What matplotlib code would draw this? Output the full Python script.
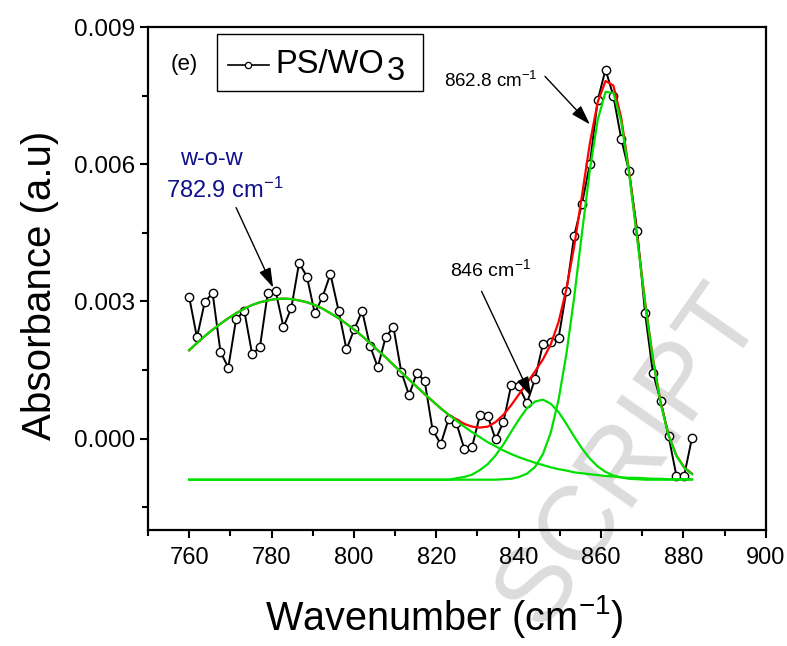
import matplotlib
matplotlib.use('Agg')
import matplotlib.pyplot as plt
from matplotlib.patches import Rectangle
from matplotlib.ticker import MultipleLocator, FormatStrFormatter
import numpy as np

plt.rcParams['font.family'] = ['Liberation Sans', 'DejaVu Sans']
plt.rcParams['mathtext.fontset'] = 'custom'
plt.rcParams['mathtext.rm'] = 'Liberation Sans'
plt.rcParams['mathtext.it'] = 'Liberation Sans:italic'
plt.rcParams['mathtext.bf'] = 'Liberation Sans:bold'

# ------------------------------------------------------------
# data (absorbance values in units of 1e-3)
# ------------------------------------------------------------
wavenumber = [
    760.0, 761.9, 763.8, 765.7, 767.6, 769.5, 771.4, 773.4, 775.3, 777.2,
    779.1, 781.0, 782.9, 784.8, 786.7, 788.6, 790.5, 792.4, 794.3, 796.3,
    798.2, 800.1, 802.0, 803.9, 805.8, 807.7, 809.6, 811.5, 813.4, 815.3,
    817.2, 819.1, 821.1, 823.0, 824.9, 826.8, 828.7, 830.6, 832.5, 834.4,
    836.3, 838.2, 840.1, 842.0, 844.0, 845.9, 847.8, 849.7, 851.6, 853.5,
    855.4, 857.3, 859.2, 861.1, 863.0, 864.9, 866.8, 868.8, 870.7, 872.6,
    874.5, 876.4, 878.3, 880.2, 882.1,
]

absorbance = [
    3.10, 2.21, 2.99, 3.18, 1.90, 1.55, 2.61, 2.79, 1.84, 2.01,
    3.19, 3.22, 2.44, 2.85, 3.84, 3.54, 2.74, 3.10, 3.60, 2.79,
    1.95, 2.39, 2.79, 2.03, 1.56, 2.21, 2.44, 1.46, 0.95, 1.44,
    1.25, 0.19, -0.12, 0.43, 0.33, -0.22, -0.18, 0.51, 0.49, -0.02,
    0.36, 1.17, 1.14, 0.77, 1.31, 2.07, 2.11, 2.20, 3.23, 4.44,
    5.14, 6.01, 7.40, 8.07, 7.49, 6.56, 5.84, 4.54, 2.74, 1.44,
    0.82, 0.05, -0.81, -0.81, 0.02,
]

# fitted peaks at the same wavenumbers
peak_783 = [
    1.93, 2.09, 2.24, 2.38, 2.51, 2.63, 2.74, 2.84, 2.92, 2.98,
    3.02, 3.05, 3.06, 3.05, 3.02, 2.98, 2.92, 2.84, 2.74, 2.63,
    2.51, 2.38, 2.24, 2.09, 1.93, 1.78, 1.61, 1.45, 1.29, 1.13,
    0.97, 0.82, 0.66, 0.52, 0.39, 0.26, 0.14, 0.03, -0.08, -0.17,
    -0.26, -0.34, -0.41, -0.47, -0.53, -0.58, -0.63, -0.67, -0.70, -0.74,
    -0.76, -0.78, -0.80, -0.82, -0.83, -0.85, -0.86, -0.86, -0.87, -0.88,
    -0.88, -0.89, -0.89, -0.89, -0.89,
]

peak_846 = [-0.90] * 34 + [
    -0.87, -0.84, -0.79, -0.69, -0.56, -0.37, -0.13, 0.15, 0.42, 0.66,
    0.81, 0.85, 0.76, 0.58, 0.32, 0.04, -0.22, -0.44, -0.61, -0.73,
    -0.81, -0.85, -0.88, -0.89,
] + [-0.90] * 7

peak_863 = [-0.90] * 40 + [
    -0.89, -0.88, -0.84, -0.77, -0.62, -0.34, 0.13, 0.85, 1.85, 3.10,
    4.51, 5.88, 6.97, 7.58, 7.56, 6.93, 5.81, 4.36, 2.96, 1.73,
    0.76, 0.07, -0.38, -0.64, -0.78,
]

fit_total = peak_783[:34] + [
    0.42, 0.32, 0.26, 0.24, 0.26, 0.36, 0.52, 0.73, 0.97, 1.21,
    1.47, 1.73, 2.06, 2.55, 3.27, 4.21, 5.33, 6.46, 7.36, 7.82,
    7.72, 7.02, 5.87, 4.41, 2.99, 1.75, 0.78, 0.08, -0.37, -0.63,
    -0.77,
]

SCALE = 1e-3
GREEN = '#00e000'

# ------------------------------------------------------------
# figure
# ------------------------------------------------------------
fig = plt.figure(figsize=(7.87, 6.46), dpi=100)
ax = fig.add_axes([0.188, 0.1796, 0.785, 0.7786])
ax.patch.set_alpha(0)

# visible tail of the journal watermark, behind everything
fig.text(0.97, 0.515, 'SCRIPT', rotation=55, rotation_mode='anchor',
         ha='right', va='baseline', fontsize=76, color='#dcdcdc', zorder=-5)

x = np.array(wavenumber)
ax.plot(x, np.array(absorbance) * SCALE, '-o', color='black', lw=1.4,
        ms=6, mfc='white', mec='black', mew=1.0, zorder=2)
ax.plot(x, np.array(fit_total) * SCALE, color='red', lw=1.6, zorder=3)
for comp in (peak_783, peak_846, peak_863):
    ax.plot(x, np.array(comp) * SCALE, color=GREEN, lw=1.6, zorder=4)

ax.set_xlim(750, 900)
ax.set_ylim(-0.002, 0.009)
ax.xaxis.set_major_locator(MultipleLocator(20))
ax.xaxis.set_minor_locator(MultipleLocator(10))
ax.yaxis.set_major_locator(MultipleLocator(0.003))
ax.yaxis.set_minor_locator(MultipleLocator(0.0015))
ax.yaxis.set_major_formatter(FormatStrFormatter('%.3f'))

for s in ax.spines.values():
    s.set_linewidth(1.6)
ax.tick_params(which='both', direction='out', width=1.5)
ax.tick_params(which='major', length=6)
ax.tick_params(which='minor', length=4)
ax.tick_params(axis='y', pad=3, labelsize=17.5)
ax.tick_params(axis='x', pad=6, labelsize=17)

fig.text(40 / 787, 1 - 285 / 646, 'Absorbance (a.u)', rotation=90,
         ha='center', va='center', fontsize=29)
fig.text(444 / 787, 1 - 616 / 646, r'Wavenumber (cm$^{\mathrm{-1}}$)',
         ha='center', va='center', fontsize=28.5)

# panel tag and hand-made legend
ax.text(758.7, 0.00818, '(e)', ha='center', va='center', fontsize=16)
ax.add_patch(Rectangle((0.111, 0.873), 0.3335, 0.113, transform=ax.transAxes,
                       fill=False, ec='black', lw=1.0, zorder=5))
ax.plot([0.129, 0.196], [0.9245, 0.9245], transform=ax.transAxes,
        color='black', lw=1.2, zorder=5)
ax.plot([0.162], [0.9245], 'o', transform=ax.transAxes, ms=4.5,
        mfc='white', mec='black', mew=0.9, zorder=6)
ax.text(0.2055, 0.9085, 'PS/WO', transform=ax.transAxes, ha='left',
        va='baseline', fontsize=23.5)
ax.text(0.386, 0.8946, '3', transform=ax.transAxes, ha='left',
        va='baseline', fontsize=23.5)

# peak annotations
NAVY = '#10108a'
ax.text(765.4, 0.00599, 'w-o-w', ha='center', va='baseline', fontsize=17, color=NAVY)
ax.text(754.5, 0.00527, r'782.9 cm$^{\mathrm{-1}}$', ha='left', va='baseline',
        fontsize=17, color=NAVY)
ax.text(823.3, 0.00356, r'846 cm$^{\mathrm{-1}}$', ha='left', va='baseline', fontsize=14)
ax.text(821.8, 0.00768, r'862.8 cm$^{\mathrm{-1}}$', ha='left', va='baseline', fontsize=13.5)

arrow = dict(arrowstyle='-|>,head_length=0.8,head_width=0.25', color='black',
             lw=1.0, mutation_scale=15, shrinkA=0, shrinkB=0)
ax.annotate('', xy=(780.4, 0.00330), xytext=(771.4, 0.00505), arrowprops=arrow)
ax.annotate('', xy=(843.0, 0.00092), xytext=(831.0, 0.00322), arrowprops=arrow)
ax.annotate('', xy=(857.3, 0.00687), xytext=(846.4, 0.00792), arrowprops=arrow)

fig.savefig('out.png', dpi=100)
